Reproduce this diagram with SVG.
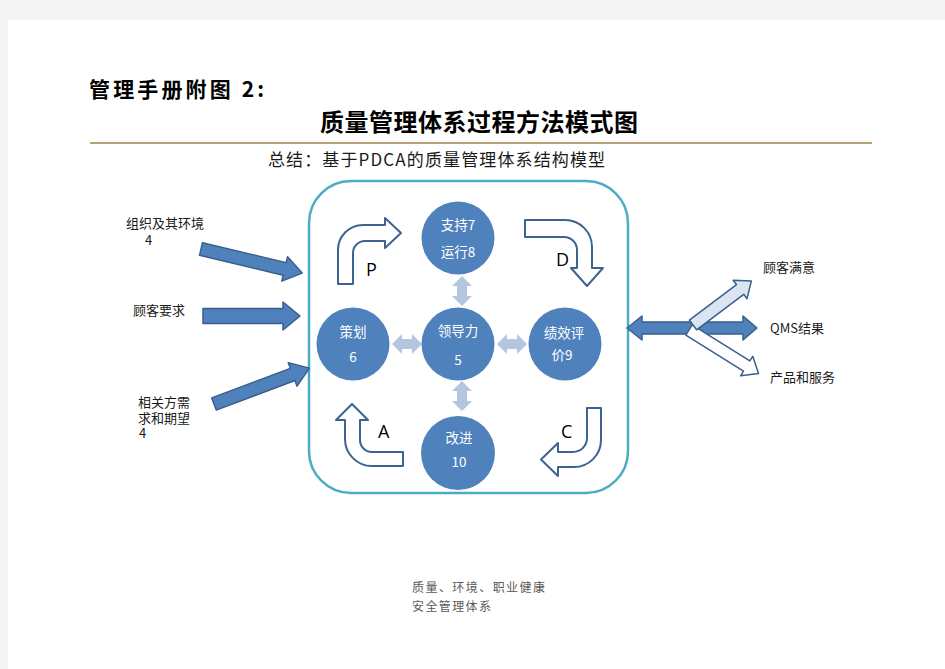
<svg xmlns="http://www.w3.org/2000/svg" xmlns:xlink="http://www.w3.org/1999/xlink" width="945" height="669" viewBox="0 0 945 669">
<style>
.cjk{font-family:"Noto Sans CJK SC","Noto Sans",sans-serif}
.lbl{font-family:"Noto Sans CJK SC","Noto Sans",sans-serif;font-size:13px;fill:#1a1a1a}
.ctext{font-family:"Noto Sans CJK SC","Noto Sans",sans-serif;font-size:13.5px;fill:#ffffff;text-anchor:middle}
.circle{fill:#4f81bd}
.pdca{fill:#ffffff;stroke:#3d6391;stroke-width:2;stroke-linejoin:round}
.letter{font-family:"Open Sans","Liberation Sans",sans-serif;font-size:18px;fill:#000}
.blk{fill:#4f81bd;stroke:#3a5f8c;stroke-width:1.5;stroke-linejoin:round}
.lite{fill:#b4c5e0}
</style>
<defs>
<path id="dbl" d="M-15,0 L-5,-10 L-5,-5 L5,-5 L5,-10 L15,0 L5,10 L5,5 L-5,5 L-5,10 Z"/>
</defs>
<rect x="0" y="0" width="945" height="669" fill="#f4f4f4"/>
<rect x="8" y="20" width="937" height="649" fill="#ffffff"/>

<g id="header">
<text class="cjk" x="89" y="97" font-size="21" font-weight="700" textLength="175" lengthAdjust="spacing" fill="#000">管理手册附图 2:</text>
<text class="cjk" x="320" y="131" font-size="24" font-weight="700" textLength="318" lengthAdjust="spacing" fill="#000">质量管理体系过程方法模式图</text>
<line x1="90" y1="143" x2="872" y2="143" stroke="#a0804f" stroke-width="1.6"/>
<text class="cjk" x="268" y="166" font-size="17" textLength="337" lengthAdjust="spacing" fill="#1a1a1a">总结：基于PDCA的质量管理体系结构模型</text>
</g>

<g id="frame">
<rect x="309" y="181" width="319" height="312" rx="42" ry="42" fill="none" stroke="#4bacc6" stroke-width="2.5"/>
</g>

<g id="connectors">
<!-- left inputs -->
<path class="blk" transform="translate(201,249) rotate(13.4)" d="M0,-6.5 L86,-6.5 L86,-12.5 L104,0 L86,12.5 L86,6.5 L0,6.5 Z"/>
<path class="blk" transform="translate(203,316)" d="M0,-7.5 L80,-7.5 L80,-14 L97,0 L80,14 L80,7.5 L0,7.5 Z"/>
<path class="blk" transform="translate(214,404) rotate(-20.6)" d="M0,-6.5 L84,-6.5 L84,-12.5 L102,0 L84,12.5 L84,6.5 L0,6.5 Z"/>
<!-- internal light double arrows -->
<use xlink:href="#dbl" class="lite" transform="translate(462,291) rotate(90)"/>
<use xlink:href="#dbl" class="lite" transform="translate(407,344)"/>
<use xlink:href="#dbl" class="lite" transform="translate(512,344)"/>
<use xlink:href="#dbl" class="lite" transform="translate(462,396) rotate(90)"/>
<!-- PDCA bent arrows -->
<path class="pdca" d="M338,284 V250 A25,25 0 0 1 363,225 H385 V218 L401,233 L385,248 V241 H365 A12,12 0 0 0 353,253 V284 Z"/>
<path class="pdca" d="M525,220 H565 A27,27 0 0 1 592,247 V268 H603 L587,286 L571,268 H577 V250 A13,13 0 0 0 564,237 H525 Z"/>
<path class="pdca" d="M587,408 H601 V440 A27,27 0 0 1 574,467 H558 V476 L541,459.5 L558,443 V452 H573 A14,14 0 0 0 587,438 Z"/>
<path class="pdca" d="M345,420 H336 L352,404 L368,420 H360 V440 A12,12 0 0 0 372,452 H403 V466 H372 A27,27 0 0 1 345,439 Z"/>
<!-- right outputs -->
<path class="blk" d="M627,328 L642,316 L642,322 L743,322 L743,316 L757,328 L743,340 L743,334 L642,334 L642,340 Z"/>
<path fill="#ffffff" stroke="#3a5f8c" stroke-width="1.5" stroke-linejoin="round" transform="translate(689,330) rotate(32)" d="M0,-6 L68,-6 L68,-11.5 L82,0 L68,11.5 L68,6 L0,6 Z"/>
<path fill="#dbe5f1" stroke="#3a5f8c" stroke-width="1.5" stroke-linejoin="round" transform="translate(693,325) rotate(-37)" d="M0,-6 L59,-6 L59,-11.5 L73,0 L59,11.5 L59,6 L0,6 Z"/>
</g>

<g id="node-support">
<circle class="circle" cx="458" cy="238" r="36.5"/>
<text class="ctext" x="458" y="230">支持7</text>
<text class="ctext" x="458" y="257">运行8</text>
</g>
<g id="node-plan">
<circle class="circle" cx="353" cy="344" r="36.5"/>
<text class="ctext" x="353" y="337">策划</text>
<text class="ctext" x="353" y="362">6</text>
</g>
<g id="node-leadership">
<circle class="circle" cx="458" cy="344" r="36.5"/>
<text class="ctext" x="458" y="336" font-size="16">领导力</text>
<text class="ctext" x="458" y="365" font-size="16">5</text>
</g>
<g id="node-evaluation">
<circle class="circle" cx="565" cy="344" r="36.5"/>
<text class="ctext" x="564" y="338">绩效评</text>
<text class="ctext" x="562" y="360">价9</text>
</g>
<g id="node-improve">
<circle class="circle" cx="458" cy="453" r="37"/>
<text class="ctext" x="459" y="443">改进</text>
<text class="ctext" x="459" y="467">10</text>
</g>

<g id="pdca-labels">
<text class="letter" x="366" y="276">P</text>
<text class="letter" x="556" y="266">D</text>
<text class="letter" x="561" y="438">C</text>
<text class="letter" x="378" y="438">A</text>
</g>

<g id="inputs">
<text class="lbl" x="126" y="228">组织及其环境</text>
<text class="lbl" x="145" y="245">4</text>
<text class="lbl" x="133" y="315">顾客要求</text>
<text class="lbl" x="138" y="407">相关方需</text>
<text class="lbl" x="138" y="423">求和期望</text>
<text class="lbl" x="139" y="438">4</text>
</g>

<g id="outputs">
<text class="lbl" x="763" y="272">顾客满意</text>
<text class="lbl" x="770" y="333">QMS结果</text>
<text class="lbl" x="770" y="382">产品和服务</text>
</g>

<g id="footer">
<text class="cjk" x="412" y="592" font-size="12" textLength="133" lengthAdjust="spacing" fill="#5a5a5a">质量、环境、职业健康</text>
<text class="cjk" x="412" y="611" font-size="12" textLength="79" lengthAdjust="spacing" fill="#5a5a5a">安全管理体系</text>
</g>
</svg>
